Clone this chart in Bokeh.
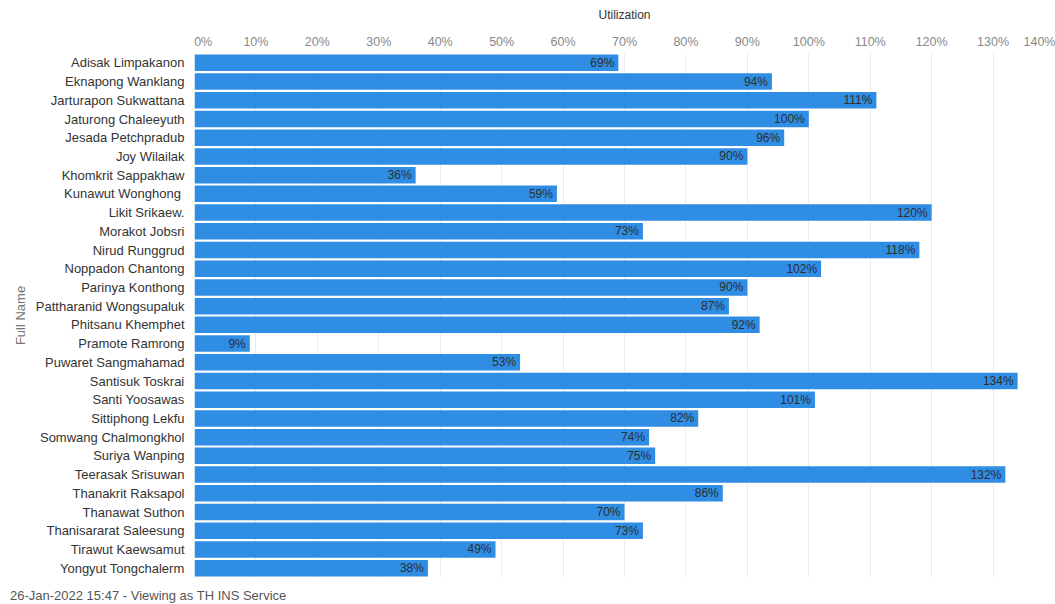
from bokeh.plotting import figure
from bokeh.models import ColumnDataSource, FactorRange, Range1d, FixedTicker, LabelSet, Div
from bokeh.layouts import column
from bokeh.embed import file_html
from bokeh.resources import INLINE
from bokeh.core.properties import value

names = [
    "Adisak Limpakanon", "Eknapong Wanklang", "Jarturapon Sukwattana", "Jaturong Chaleeyuth",
    "Jesada Petchpradub", "Joy Wilailak", "Khomkrit Sappakhaw", "Kunawut  Wonghong",
    "Likit Srikaew.", "Morakot Jobsri", "Nirud Runggrud", "Noppadon Chantong",
    "Parinya Konthong", "Pattharanid Wongsupaluk", "Phitsanu Khemphet", "Pramote Ramrong",
    "Puwaret Sangmahamad", "Santisuk Toskrai", "Santi Yoosawas", "Sittiphong Lekfu",
    "Somwang Chalmongkhol", "Suriya Wanping", "Teerasak Srisuwan", "Thanakrit Raksapol",
    "Thanawat Suthon", "Thanisararat Saleesung", "Tirawut Kaewsamut", "Yongyut Tongchalerm",
]
utilization = [69, 94, 111, 100, 96, 90, 36, 59, 120, 73, 118, 102, 90, 87, 92, 9,
               53, 134, 101, 82, 74, 75, 132, 86, 70, 73, 49, 38]
tick_values = [0, 10, 20, 30, 40, 50, 60, 70, 80, 90, 100, 110, 120, 130, 140]
tick_labels = [f"{t}%" for t in tick_values]
bar_labels = [f"{u}%" for u in utilization]
footer = "26-Jan-2022 15:47 - Viewing as TH INS Service"

FONT = "Liberation Sans"
BAR = "#2f8de4"
NB = "\u00a0"

# first label reads left-aligned (padding with no-break spaces); the last one
# is kept inside the canvas by Bokeh itself, so it ends at the right edge
shown = list(tick_labels)
shown[0] = NB * 5 + shown[0]

src = ColumnDataSource(dict(name=names, util=utilization, lab=bar_labels))

p = figure(width=1055, height=584,
           y_range=FactorRange(factors=list(reversed(names))),
           x_range=Range1d(0, 140),
           x_axis_location="above",
           output_backend="svg", toolbar_location=None,
           min_border_left=194, min_border_top=53, min_border_right=1, min_border_bottom=7)

p.hbar(y="name", right="util", left=0, height=0.88, source=src,
       fill_color=BAR, line_color=None)

p.add_layout(LabelSet(x="util", y="name", text="lab", source=src,
                      x_offset=-4, text_align="right", text_baseline="middle",
                      text_font=value(FONT), text_font_size="12px", text_color="#2d2d2d"))

# x axis (top)
xa = p.xaxis[0]
xa.ticker = FixedTicker(ticks=tick_values)
xa.major_label_overrides = {t: s for t, s in zip(tick_values, shown)}
xa.major_label_text_font = FONT
xa.major_label_text_font_size = "12.5px"
xa.major_label_text_color = "#888888"
xa.major_label_standoff = 5
xa.axis_line_color = None
xa.major_tick_line_color = None
xa.major_tick_out = 0
xa.major_tick_in = 0
xa.minor_tick_line_color = None
xa.axis_label = "Utilization"
xa.axis_label_text_font = FONT
xa.axis_label_text_font_size = "12px"
xa.axis_label_text_font_style = "normal"
xa.axis_label_text_color = "#333333"
xa.axis_label_standoff = 10

# y axis
ya = p.yaxis[0]
ya.axis_line_color = None
ya.major_tick_line_color = None
ya.major_tick_out = 0
ya.major_tick_in = 0
ya.minor_tick_line_color = None
ya.major_label_text_font = FONT
ya.major_label_text_font_size = "13px"
ya.major_label_text_color = "#333333"
ya.major_label_standoff = 10
ya.axis_label = "Full Name"
ya.axis_label_text_font = FONT
ya.axis_label_text_font_size = "13px"
ya.axis_label_text_font_style = "normal"
ya.axis_label_text_color = "#777777"

p.xgrid.grid_line_color = "#ebebeb"
p.xgrid.ticker = FixedTicker(ticks=tick_values)
p.ygrid.grid_line_color = None
p.outline_line_color = None

foot = Div(text=footer, width=600, height=18, margin=(2, 0, 0, 10),
           styles={"font-family": FONT, "font-size": "13px", "color": "#555555",
                   "line-height": "20px"})

layout = column(p, foot, spacing=0)

open("out.html", "w").write(file_html(layout, INLINE))
